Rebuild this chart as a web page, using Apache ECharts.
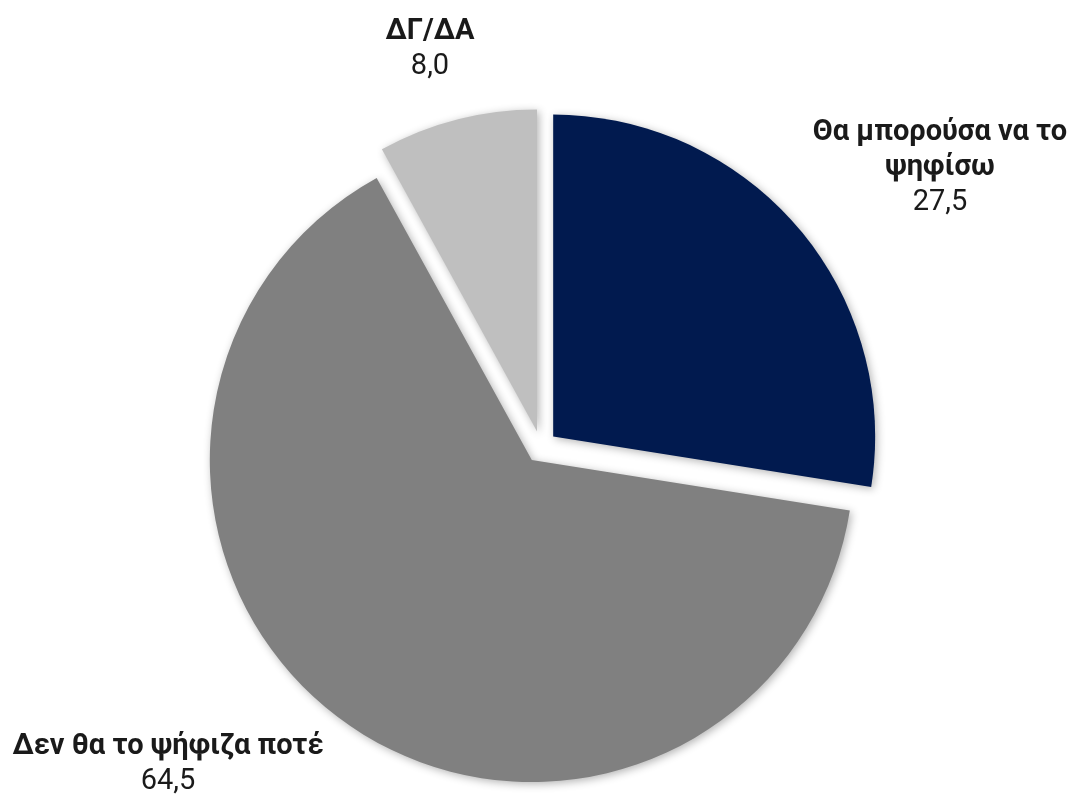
<!DOCTYPE html>
<html>
<head>
<meta charset="utf-8">
<script src="https://cdn.jsdelivr.net/npm/echarts@6/dist/echarts.min.js"></script>
<style>
  html, body { margin: 0; padding: 0; background: #fff; }
  #chart { width: 1078px; height: 800px; }
</style>
</head>
<body>
<div id="chart"></div>
<script>
// categories and values (clockwise from 12 o'clock)
var categories = ['Θα μπορούσα να το\nψηφίσω', 'Δεν θα το ψήφιζα ποτέ', 'ΔΓ/ΔΑ'];
var values = [27.5, 64.5, 8.0];
var colors = ['#011a4f', '#808080', '#bfbfbf'];
// label centre points (px)
var labelPos = [[940, 168], [168, 764], [430, 49]];

var myChart = echarts.init(document.getElementById('chart'));
var fontFamily = '"Liberation Sans Narrow", "Roboto", "Liberation Sans", sans-serif';

function labelText(name, value) {
    return '{b|' + name.split('\n').join('}\n{b|') + '}\n{v|' + value.toFixed(1).replace('.', ',') + '}';
}

var option = {
    animation: false,
    graphic: values.map(function (v, i) {
        return {
            type: 'text',
            x: labelPos[i][0],
            y: labelPos[i][1],
            style: {
                text: labelText(categories[i], v),
                align: 'center',
                verticalAlign: 'middle',
                rich: {
                    b: { fontFamily: fontFamily, fontSize: 29, fontWeight: 'bold', fill: '#1a1a1a', lineHeight: 35, align: 'center' },
                    v: { fontFamily: fontFamily, fontSize: 29, fill: '#1a1a1a', lineHeight: 35, align: 'center' }
                }
            }
        };
    }),
    series: [
        {
            type: 'pie',
            center: [541, 447],
            radius: [0, 322],
            startAngle: 90,
            clockwise: true,
            selectedMode: 'multiple',
            selectedOffset: 16,
            emphasis: { disabled: true },
            itemStyle: {
                shadowBlur: 8,
                shadowColor: 'rgba(0,0,0,0.3)',
                shadowOffsetX: 2,
                shadowOffsetY: 2
            },
            label: { show: false },
            labelLine: { show: false },
            data: values.map(function (v, i) {
                return {
                    name: categories[i],
                    value: v,
                    selected: true,
                    itemStyle: { color: colors[i] }
                };
            })
        }
    ]
};
myChart.setOption(option);
</script>
</body>
</html>
